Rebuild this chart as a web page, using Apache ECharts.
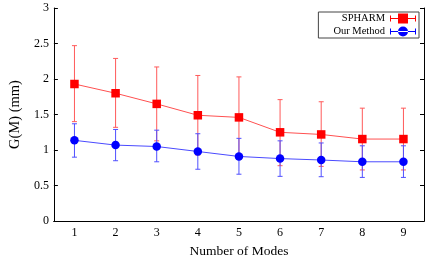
<!DOCTYPE html>
<html><head><meta charset="utf-8">
<script src="https://cdn.jsdelivr.net/npm/echarts@6/dist/echarts.min.js"></script>
<style>html,body{margin:0;padding:0;background:#fff}#c{width:427px;height:263px}</style>
</head><body><div id="c"></div>
<script>
const modes = ['1','2','3','4','5','6','7','8','9'];
const spharmMean = [1.93,1.80,1.65,1.49,1.46,1.25,1.22,1.155,1.155];
const spharmUpper = [2.47,2.29,2.17,2.05,2.03,1.71,1.68,1.59,1.59];
const spharmLower = [1.40,1.32,1.13,0.93,0.89,0.78,0.77,0.72,0.72];
const oursMean = [1.137,1.07,1.05,0.98,0.91,0.88,0.86,0.835,0.835];
const oursUpper = [1.37,1.29,1.28,1.23,1.165,1.13,1.10,1.06,1.06];
const oursLower = [0.90,0.85,0.835,0.73,0.66,0.63,0.625,0.615,0.615];
const yTicks = [0,0.5,1,1.5,2,2.5,3];

const font = '"Liberation Serif","DejaVu Serif",serif';
function errData(lo, hi){ return modes.map((m,i)=>[i, lo[i], hi[i]]); }
function errSeries(name, lo, hi, color){
  return {
    type:'custom', name: name+'_err', silent:true, z:2,
    data: errData(lo,hi),
    renderItem: function(params, api){
      const x = api.value(0);
      const p1 = api.coord([x, api.value(1)]);
      const p2 = api.coord([x, api.value(2)]);
      const w = 2.5;
      const st = {stroke: color, lineWidth: 1};
      return {type:'group', children:[
        {type:'line', shape:{x1:p1[0],y1:p1[1],x2:p2[0],y2:p2[1]}, style:st},
        {type:'line', shape:{x1:p1[0]-w,y1:p1[1],x2:p1[0]+w,y2:p1[1]}, style:st},
        {type:'line', shape:{x1:p2[0]-w,y1:p2[1],x2:p2[0]+w,y2:p2[1]}, style:st}
      ]};
    }
  };
}
const iconSq = 'path://M0,4.5H26V5.5H0Z M0,2H1V8H0Z M25,2H26V8H25Z M8,0H18V10H8Z';
const iconCi = 'path://M0,4.5H26V5.5H0Z M0,2H1V8H0Z M25,2H26V8H25Z M8,5A5,5 0 1,0 18,5A5,5 0 1,0 8,5Z';

const chart = echarts.init(document.getElementById('c'), null, {renderer:'canvas'});
chart.setOption({
  animation:false,
  textStyle:{fontFamily:font},
  grid:{left:43,right:3,top:8,bottom:36},
  legend:{
    orient:'vertical', align:'right', right:8, top:12,
    padding:[1,3,1,15], itemGap:2, itemWidth:26, itemHeight:10,
    borderColor:'#444', borderWidth:1, backgroundColor:'#fff',
    textStyle:{fontFamily:font, fontSize:10.5, color:'#000', padding:[0,0,0,0]},
    data:[
      {name:'SPHARM', icon:iconSq, itemStyle:{color:'#ff0000'}},
      {name:'Our Method', icon:iconCi, itemStyle:{color:'#0000ff'}}
    ]
  },
  xAxis:[{
    type:'category', data:modes, boundaryGap:true,
    name:'Number of Modes', nameLocation:'middle', nameGap:22,
    nameTextStyle:{fontFamily:font, fontSize:13.5, color:'#000'},
    axisLine:{lineStyle:{color:'#000',width:1}},
    axisTick:{inside:true, alignWithLabel:true, length:4, lineStyle:{color:'#000'}},
    axisLabel:{fontFamily:font, fontSize:12, color:'#000', margin:6},
    splitLine:{show:false}
  },{
    type:'category', data:modes, boundaryGap:true, position:'top',
    axisLine:{lineStyle:{color:'#000',width:1}},
    axisTick:{inside:true, alignWithLabel:true, length:4, lineStyle:{color:'#000'}},
    axisLabel:{show:false}, splitLine:{show:false}
  }],
  yAxis:[{
    type:'value', min:0, max:3, interval:0.5,
    name:'G(M) (mm)', nameLocation:'middle', nameGap:30,
    nameTextStyle:{fontFamily:font, fontSize:14.5, color:'#000'},
    axisLine:{show:true, lineStyle:{color:'#000',width:1}},
    axisTick:{show:true, inside:true, length:4, lineStyle:{color:'#000'}},
    axisLabel:{fontFamily:font, fontSize:12, color:'#000', margin:5,
      formatter:v=>String(v)},
    splitLine:{show:false}
  },{
    type:'value', min:0, max:3, interval:0.5, position:'right',
    axisLine:{show:true, lineStyle:{color:'#000',width:1}},
    axisTick:{show:true, inside:true, length:4, lineStyle:{color:'#000'}},
    axisLabel:{show:false}, splitLine:{show:false}
  }],
  series:[
    errSeries('SPHARM', spharmLower, spharmUpper, '#ff5a5a'),
    {type:'line', name:'SPHARM', data:spharmMean, z:3,
      symbol:'rect', symbolSize:8.5, showAllSymbol:true,
      lineStyle:{color:'#ff5050', width:1},
      itemStyle:{color:'#ff0000'}},
    errSeries('Our Method', oursLower, oursUpper, '#5050ff'),
    {type:'line', name:'Our Method', data:oursMean, z:4,
      symbol:'circle', symbolSize:8.5, showAllSymbol:true,
      lineStyle:{color:'#4a4aff', width:1},
      itemStyle:{color:'#0000ff'}}
  ]
});
</script></body></html>
